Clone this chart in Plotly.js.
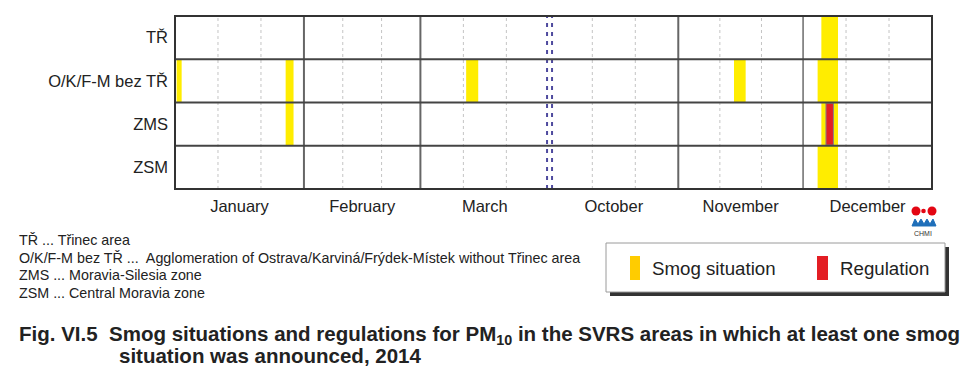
<!DOCTYPE html>
<html>
<head>
<meta charset="utf-8">
<script src="https://cdn.plot.ly/plotly-3.0.1.min.js"></script>
<style>html,body{margin:0;padding:0;background:#fff}#chart{width:976px;height:384px}</style>
</head>
<body>
<div id="chart"></div>
<script>
// ---- data ----
const rows = ['TŘ', 'O/K/F-M bez TŘ', 'ZMS', 'ZSM'];
const months = ['January', 'February', 'March', 'October', 'November', 'December'];
const monthDays = [31, 28, 31, 31, 30, 31];
// smog situations (day offset on the shown time axis, start/end)
const smogRow = ['O/K/F-M bez TŘ', 'O/K/F-M bez TŘ', 'ZMS', 'O/K/F-M bez TŘ', 'O/K/F-M bez TŘ', 'TŘ', 'O/K/F-M bez TŘ', 'ZMS', 'ZSM'];
const smogStart = [0.4, 26.6, 26.6, 70.0, 134.4, 155.4, 154.5, 155.4, 154.5];
const smogEnd = [1.6, 28.5, 28.5, 72.9, 137.2, 159.4, 159.4, 159.4, 159.4];
// regulations
const regRow = ['ZMS'];
const regStart = [156.5];
const regEnd = [158.3];
const footnotes = [
  'TŘ ... Třinec area',
  'O/K/F-M bez TŘ ...  Agglomeration of Ostrava/Karviná/Frýdek-Místek without Třinec area',
  'ZMS ... Moravia-Silesia zone',
  'ZSM ... Central Moravia zone'
];

// ---- derived ----
const bounds = [0];
monthDays.forEach(d => bounds.push(bounds[bounds.length - 1] + d));
const total = bounds[bounds.length - 1];
const mids = months.map((m, i) => (bounds[i] + bounds[i + 1]) / 2);

const L = 175, R = 932, T = 16, B = 189;
const PX = x => (x - L) / (R - L);
const PY = y => (B - y) / (B - T);
const FONT = '"Liberation Sans", Arial, sans-serif';

const shapes = [];
// minor dotted lines at thirds of each month
monthDays.forEach((d, i) => {
  [1, 2].forEach(k => {
    const xv = bounds[i] + d * k / 3;
    shapes.push({type: 'line', xref: 'x', yref: 'paper', x0: xv, x1: xv, y0: 0, y1: 1,
      line: {color: '#c4c4c4', width: 1, dash: 'dot'}, layer: 'below'});
  });
});
// month boundaries
bounds.slice(1, -1).forEach((b, i) => {
  if (i === 2) {
    // break between March and October: double dashed line
    [-0.55, 0.65].forEach(off => {
      shapes.push({type: 'line', xref: 'x', yref: 'paper', x0: b + off, x1: b + off, y0: 0, y1: 1,
        line: {color: '#4e4a9e', width: 2, dash: '4px,5px'}, layer: 'above'});
    });
  } else if (i === 4) {
    shapes.push({type: 'line', xref: 'x', yref: 'paper', x0: b, x1: b, y0: 0, y1: 1,
      line: {color: '#222', width: 1}, layer: 'above'});
  } else {
    shapes.push({type: 'line', xref: 'x', yref: 'paper', x0: b, x1: b, y0: 0, y1: 1,
      line: {color: '#666', width: 2}, layer: 'above'});
  }
});
// row separators
[0.5, 1.5, 2.5].forEach(yv => {
  shapes.push({type: 'line', xref: 'paper', yref: 'y', x0: 0, x1: 1, y0: yv, y1: yv,
    line: {color: '#444', width: 2}, layer: 'above'});
});
// plot frame
shapes.push({type: 'rect', xref: 'paper', yref: 'paper', x0: 0, x1: 1, y0: 0, y1: 1,
  line: {color: '#333', width: 2}, layer: 'above'});

// legend box with shadow
shapes.push({type: 'rect', xref: 'paper', yref: 'paper', x0: PX(610), x1: PX(949), y0: PY(247), y1: PY(296),
  fillcolor: '#333', line: {width: 0}, layer: 'above'});
shapes.push({type: 'rect', xref: 'paper', yref: 'paper', x0: PX(606), x1: PX(945), y0: PY(243), y1: PY(292),
  fillcolor: '#fff', line: {color: '#9a9a9a', width: 1}, layer: 'above'});
shapes.push({type: 'rect', xref: 'paper', yref: 'paper', x0: PX(630), x1: PX(640), y0: PY(256), y1: PY(280),
  fillcolor: '#ffcc00', line: {width: 0}, layer: 'above'});
shapes.push({type: 'rect', xref: 'paper', yref: 'paper', x0: PX(817), x1: PX(828), y0: PY(256), y1: PY(280),
  fillcolor: '#e31e24', line: {width: 0}, layer: 'above'});

// CHMI logo
[[916, 211, 4.5], [932, 211, 4.5], [923.5, 211, 2.3]].forEach(c => {
  shapes.push({type: 'circle', xref: 'paper', yref: 'paper', x0: PX(c[0] - c[2]), x1: PX(c[0] + c[2]),
    y0: PY(c[1] + c[2]), y1: PY(c[1] - c[2]), fillcolor: '#e30613', line: {width: 0}, layer: 'above'});
});
const wave = [[912, 226], [915, 219], [918, 224], [921, 219], [924, 224], [927, 219], [930, 224], [933, 219], [936, 226]];
let wp = 'M' + wave.map(p => PX(p[0]).toFixed(5) + ',' + PY(p[1]).toFixed(5)).join(' L') + ' Z';
shapes.push({type: 'path', xref: 'paper', yref: 'paper', path: wp, fillcolor: '#1f6fba', line: {color: '#1f6fba', width: 1}, layer: 'above'});

const annotations = [];
footnotes.forEach((t, i) => {
  annotations.push({xref: 'paper', yref: 'paper', x: PX(17), y: PY(240 + i * 17.7), xanchor: 'left', yanchor: 'middle',
    text: t, showarrow: false, font: {family: FONT, size: 14.3, color: '#222'}});
});
annotations.push({xref: 'paper', yref: 'paper', x: PX(650), y: PY(268.5), xanchor: 'left', yanchor: 'middle',
  text: 'Smog situation', showarrow: false, font: {family: FONT, size: 18.7, color: '#222'}});
annotations.push({xref: 'paper', yref: 'paper', x: PX(838), y: PY(268.5), xanchor: 'left', yanchor: 'middle',
  text: 'Regulation', showarrow: false, font: {family: FONT, size: 18.7, color: '#222'}});
annotations.push({xref: 'paper', yref: 'paper', x: PX(923), y: PY(233), xanchor: 'center', yanchor: 'middle',
  text: 'CHMI', showarrow: false, font: {family: FONT, size: 7, color: '#333'}});
const TFONT = '"Liberation Sans", Arial, sans-serif';
annotations.push({xref: 'paper', yref: 'paper', x: PX(17), y: PY(335), xanchor: 'left', yanchor: 'middle',
  text: 'Fig. VI.5\u00a0\u00a0Smog situations and regulations for PM<sub>10</sub> in the SVRS areas in which at least one smog',
  showarrow: false, font: {family: TFONT, size: 20.5, color: '#222', weight: 'bold'}});
annotations.push({xref: 'paper', yref: 'paper', x: PX(117), y: PY(355), xanchor: 'left', yanchor: 'middle',
  text: 'situation was announced, 2014', showarrow: false, font: {family: TFONT, size: 20.5, color: '#222', weight: 'bold'}});

const traces = [
  {type: 'bar', orientation: 'h', y: smogRow, base: smogStart, x: smogStart.map((s, i) => smogEnd[i] - s),
    width: 1, marker: {color: '#ffed00', line: {width: 0}}, hoverinfo: 'skip', showlegend: false},
  {type: 'bar', orientation: 'h', y: regRow, base: regStart, x: regStart.map((s, i) => regEnd[i] - s),
    width: 0.97, marker: {color: '#e31e24', line: {color: '#888', width: 1}}, hoverinfo: 'skip', showlegend: false}
];

const layout = {
  width: 976, height: 384,
  margin: {l: L, r: 976 - R, t: T, b: 384 - B, pad: 0},
  paper_bgcolor: '#fff', plot_bgcolor: '#fff',
  barmode: 'overlay',
  showlegend: false,
  font: {family: FONT, color: '#222'},
  xaxis: {range: [0, total], tickvals: mids, ticktext: months, ticks: '', showgrid: false, zeroline: false,
    showline: false, tickfont: {size: 16.5, color: '#222'}, ticklabelstandoff: 5, fixedrange: true},
  yaxis: {type: 'category', categoryorder: 'array', categoryarray: rows, range: [3.5, -0.5], ticks: '',
    showgrid: false, zeroline: false, showline: false, tickfont: {size: 16.5, color: '#222'}, ticklabelstandoff: 6, fixedrange: true},
  shapes: shapes,
  annotations: annotations
};

Plotly.newPlot('chart', traces, layout, {staticPlot: true, displayModeBar: false});
</script>
</body>
</html>
